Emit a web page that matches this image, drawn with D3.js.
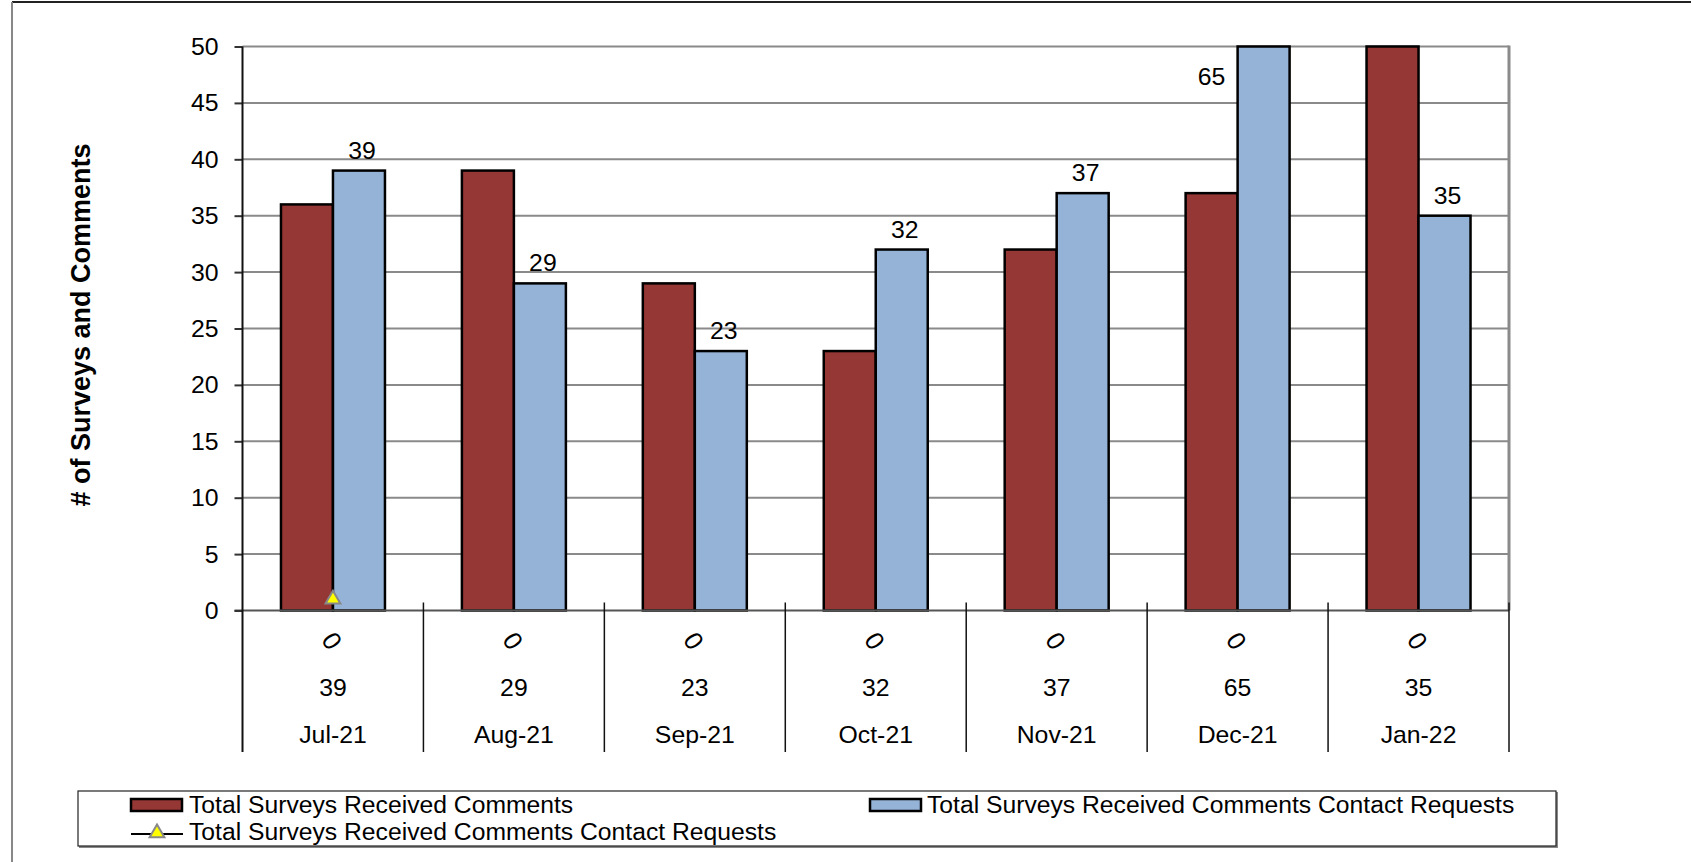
<!DOCTYPE html>
<html>
<head>
<meta charset="utf-8">
<script src="https://cdn.jsdelivr.net/npm/d3@7"></script>
<style>
  body { margin: 0; background: #fff; }
  text { font-family: "Liberation Sans", Arial, sans-serif; fill: #000; }
</style>
</head>
<body>
<svg id="chart" width="1691" height="862"></svg>
<script>
// Monthly survey figures
const months = ["Jul-21", "Aug-21", "Sep-21", "Oct-21", "Nov-21", "Dec-21", "Jan-22"];
const comments = [36, 39, 29, 23, 32, 37, 65];
const contactRequests = [39, 29, 23, 32, 37, 65, 35];
const contactMarkers = [1, null, null, null, null, null, null];
const levelOneLabels = ["0", "0", "0", "0", "0", "0", "0"];
const levelTwoLabels = ["39", "29", "23", "32", "37", "65", "35"];
const yTicks = [0, 5, 10, 15, 20, 25, 30, 35, 40, 45, 50];
const seriesNames = [
  "Total Surveys Received Comments",
  "Total Surveys Received Comments Contact Requests",
  "Total Surveys Received Comments Contact Requests"
];
const yTitle = "# of Surveys and Comments";

const RED = "#953735", BLUE = "#95B3D7";
const FS = 24.8;
const svg = d3.select("#chart");

const plot = { left: 242.5, right: 1509, top: 46.5, bottom: 610.5 };
const catBottom = 752;

const y = d3.scaleLinear().domain([0, 50]).range([plot.bottom, plot.top]).clamp(true);
const x0 = d3.scaleBand().domain(months).range([plot.left, plot.right]).paddingInner(0).paddingOuter(0);
const x1 = d3.scaleBand().domain(["comments", "requests"]).range([0, x0.bandwidth()])
  .paddingInner(0).paddingOuter(0.74);

// outer frame
svg.append("line").attr("x1", 12).attr("x2", 1691).attr("y1", 2).attr("y2", 2)
  .attr("stroke", "#222").attr("stroke-width", 2);
svg.append("line").attr("x1", 12).attr("x2", 12).attr("y1", 2).attr("y2", 862)
  .attr("stroke", "#888").attr("stroke-width", 2);

// gridlines
svg.append("g").selectAll("line").data(yTicks.filter(t => t > 0)).join("line")
  .attr("x1", plot.left).attr("x2", plot.right)
  .attr("y1", d => y(d)).attr("y2", d => y(d))
  .attr("stroke", "#8a8a8a").attr("stroke-width", 2);
// right border of plot area
svg.append("line").attr("x1", plot.right).attr("x2", plot.right)
  .attr("y1", plot.top - 1).attr("y2", plot.bottom)
  .attr("stroke", "#8a8a8a").attr("stroke-width", 3);

// bars
const groups = svg.append("g").selectAll("g").data(months).join("g")
  .attr("transform", d => `translate(${x0(d)},0)`);
groups.append("rect")
  .attr("x", x1("comments")).attr("width", x1.bandwidth())
  .attr("y", (d, i) => y(comments[i])).attr("height", (d, i) => y(0) - y(comments[i]))
  .attr("fill", RED).attr("stroke", "#000").attr("stroke-width", 2.5);
groups.append("rect")
  .attr("x", x1("requests")).attr("width", x1.bandwidth())
  .attr("y", (d, i) => y(contactRequests[i])).attr("height", (d, i) => y(0) - y(contactRequests[i]))
  .attr("fill", BLUE).attr("stroke", "#000").attr("stroke-width", 2.5);

// value labels on the contact-request bars
groups.append("text")
  .attr("font-size", FS).attr("text-anchor", "middle")
  .attr("x", (d, i) => contactRequests[i] > 50
    ? x1("requests") - 26
    : x1("requests") + x1.bandwidth() / 2 + 3)
  .attr("y", (d, i) => contactRequests[i] > 50 ? y(50) + 38 : y(contactRequests[i]) - 12)
  .text((d, i) => contactRequests[i]);

// zero baseline
svg.append("line").attr("x1", plot.left - 8).attr("x2", plot.right)
  .attr("y1", y(0)).attr("y2", y(0)).attr("stroke", "#555").attr("stroke-width", 2);

// y axis
const yAxis = svg.append("g").attr("transform", `translate(${plot.left},0)`)
  .call(d3.axisLeft(y).tickValues(yTicks).tickSize(8).tickPadding(16));
yAxis.select(".domain").remove();
yAxis.selectAll(".tick line").attr("stroke", "#333").attr("stroke-width", 2);
yAxis.selectAll(".tick text").attr("font-size", FS).attr("fill", "#000")
  .attr("font-family", "Liberation Sans, Arial, sans-serif");
svg.append("line").attr("x1", plot.left).attr("x2", plot.left)
  .attr("y1", plot.top).attr("y2", catBottom).attr("stroke", "#111").attr("stroke-width", 2);

// category separators
svg.append("g").selectAll("line").data(months.slice(1).concat(["end"])).join("line")
  .attr("x1", d => d === "end" ? plot.right : x0(d))
  .attr("x2", d => d === "end" ? plot.right : x0(d))
  .attr("y1", plot.bottom - 8).attr("y2", catBottom)
  .attr("stroke", "#111").attr("stroke-width", 1.5);

// multi-level category labels
const cats = svg.append("g").selectAll("g").data(months).join("g")
  .attr("transform", d => `translate(${x0(d) + x0.bandwidth() / 2},0)`);
cats.append("text")
  .attr("font-size", FS + 1).attr("text-anchor", "middle").attr("dy", "0.35em")
  .attr("transform", "translate(-1,641) rotate(56)")
  .text((d, i) => levelOneLabels[i]);
cats.append("text")
  .attr("font-size", FS).attr("text-anchor", "middle").attr("y", 696)
  .text((d, i) => levelTwoLabels[i]);
cats.append("text")
  .attr("font-size", FS).attr("text-anchor", "middle").attr("y", 743)
  .text(d => d);

// contact marker series
const tri = d3.symbol(d3.symbolTriangle).size(95);
svg.append("g").selectAll("path")
  .data(months.map((m, i) => ({ m, v: contactMarkers[i] })).filter(d => d.v !== null))
  .join("path")
  .attr("d", tri)
  .attr("transform", d => `translate(${x0(d.m) + x0.bandwidth() / 2},${y(d.v)})`)
  .attr("fill", "#ffff00").attr("stroke", "#888").attr("stroke-width", 2);

// y axis title
svg.append("text")
  .attr("transform", "translate(90,325) rotate(-90)")
  .attr("text-anchor", "middle").attr("font-size", 27).attr("font-weight", "bold")
  .text(yTitle);

// legend
const lg = svg.append("g");
lg.append("line").attr("x1", 79).attr("x2", 1557).attr("y1", 847).attr("y2", 847)
  .attr("stroke", "#888").attr("stroke-width", 2);
lg.append("line").attr("x1", 1557).attr("x2", 1557).attr("y1", 792).attr("y2", 848)
  .attr("stroke", "#888").attr("stroke-width", 2);
lg.append("rect").attr("x", 78).attr("y", 791).attr("width", 1478).attr("height", 55)
  .attr("fill", "#fff").attr("stroke", "#222").attr("stroke-width", 1.2);

lg.append("rect").attr("x", 131).attr("y", 799).attr("width", 51).attr("height", 12)
  .attr("fill", RED).attr("stroke", "#000").attr("stroke-width", 2.5);
lg.append("text").attr("x", 189).attr("y", 813).attr("font-size", 24.7).text(seriesNames[0]);

lg.append("rect").attr("x", 870).attr("y", 799).attr("width", 51).attr("height", 12)
  .attr("fill", BLUE).attr("stroke", "#000").attr("stroke-width", 2.5);
lg.append("text").attr("x", 927).attr("y", 813).attr("font-size", 24.7).text(seriesNames[1]);

lg.append("line").attr("x1", 131).attr("x2", 183).attr("y1", 834).attr("y2", 834)
  .attr("stroke", "#000").attr("stroke-width", 2);
lg.append("path").attr("d", tri).attr("transform", "translate(157,833)")
  .attr("fill", "#ffff00").attr("stroke", "#888").attr("stroke-width", 2);
lg.append("text").attr("x", 189).attr("y", 840).attr("font-size", 24.7).text(seriesNames[2]);
</script>
</body>
</html>
